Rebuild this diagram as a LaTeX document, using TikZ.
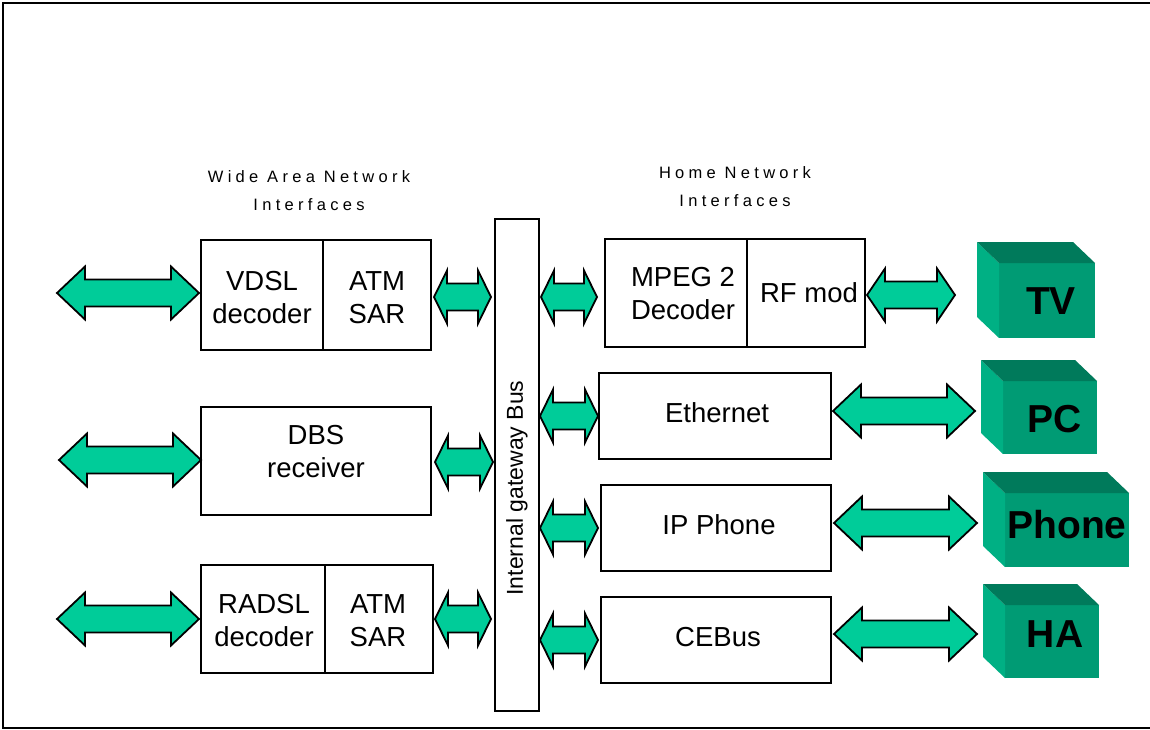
\documentclass[tikz,border=0pt]{standalone}
\usepackage{fontspec}
\setmainfont{Liberation Sans}
\newfontfamily\hdrfont[LetterSpace=26]{Liberation Sans}
\usetikzlibrary{calc}
\definecolor{arrowgreen}{HTML}{00CC99}
\definecolor{cubefront}{HTML}{009B74}
\definecolor{cubetop}{HTML}{007A5B}
\definecolor{cubeleft}{HTML}{00B084}
\newcommand\dblarr[3]{%
  \draw[blockarrow] let \p1=#1, \p2=#2 in
   (\x1,\y1) -- (\x1+#3,\y1+26.5pt) -- (\x1+#3,\y1+13.5pt) -- (\x2-#3,\y1+13.5pt)
   -- (\x2-#3,\y1+26.5pt) -- (\x2,\y1) -- (\x2-#3,\y1-26.5pt) -- (\x2-#3,\y1-13.5pt)
   -- (\x1+#3,\y1-13.5pt) -- (\x1+#3,\y1-26.5pt) -- cycle;}
\newcommand\cubefaces[1]{%
  \fill[cubeleft] (#1.north west) -- ++(-22,-21) -- ([shift={(-22,-21)}]#1.south west) -- (#1.south west) -- cycle;
  \fill[cubetop] (#1.north west) -- ++(-22,-21) -- ([shift={(-22,-21)}]#1.north east) -- (#1.north east) -- cycle;}
\begin{document}
\begin{tikzpicture}[x=1pt,y=-1pt,
  box/.style={draw, line width=2pt, inner sep=0pt, outer sep=0pt},
  boxtext/.style={align=center, inner sep=0pt, font=\fontsize{27.5}{33}\selectfont},
  hdr/.style={align=center, inner sep=0pt, font=\hdrfont\fontsize{16.5}{28}\selectfont},
  blockarrow/.style={draw=black, fill=arrowgreen, line width=1.8pt, line join=miter},
  cubeface/.style={fill=cubefront, inner sep=0pt, outer sep=0pt},
  cubetext/.style={inner sep=0pt, font=\bfseries\fontsize{39}{39}\selectfont}]
\useasboundingbox (0,0) rectangle (1150,730);
\draw[line width=2.2pt] (3,3) rectangle (1165,728);

% headers
\node[hdr] (hwan) at (309,191) {Wide Area Network\\Interfaces};
\node[hdr] (hhome) at (735,187) {Home Network\\Interfaces};

% WAN boxes
\node[box, minimum width=122, minimum height=110] (vdsl) at (262,295) {};
\node[box, minimum width=108, minimum height=110] (atm1) at (377,295) {};
\node[box, minimum width=230, minimum height=108] (dbs) at (316,461) {};
\node[box, minimum width=124, minimum height=108] (radsl) at (263,619) {};
\node[box, minimum width=108, minimum height=108] (atm2) at (379,619) {};
\node[boxtext] (tvdsl) at (262,298) {VDSL\\decoder};
\node[boxtext] (tatm1) at (377,298) {ATM\\SAR};
\node[boxtext] (tdbs) at (316,452) {DBS\\receiver};
\node[boxtext] (tradsl) at (264,621) {RADSL\\decoder};
\node[boxtext] (tatm2) at (378,621) {ATM\\SAR};

% bus
\node[box, minimum width=44, minimum height=492] (bus) at (517,465) {};
\node[rotate=90, inner sep=0pt, font=\fontsize{23}{23}\selectfont] (tbus) at (517,488) {Internal gateway Bus};

% home boxes
\node[box, minimum width=142, minimum height=108] (mpeg) at (676,293) {};
\node[box, minimum width=118, minimum height=108] (rfmod) at (806,293) {};
\node[box, minimum width=232, minimum height=86] (eth) at (715,416) {};
\node[box, minimum width=230, minimum height=86] (ipph) at (716,528) {};
\node[box, minimum width=230, minimum height=86] (cebus) at (716,640) {};
\node[boxtext] (tmpeg) at (683,294) {MPEG 2\\Decoder};
\node[boxtext] (trf) at (809,293) {RF mod};
\node[boxtext] (teth) at (717,413) {Ethernet};
\node[boxtext] (tip) at (719,525) {IP Phone};
\node[boxtext] (tce) at (718,637) {CEBus};

% cubes
\node[cubeface, minimum width=96, minimum height=75] (tv) at (1047,300.5) {};
\cubefaces{tv}
\node[cubeface, minimum width=94, minimum height=73] (pc) at (1050,417.5) {};
\cubefaces{pc}
\node[cubeface, minimum width=124, minimum height=74] (phone) at (1067,530) {};
\cubefaces{phone}
\node[cubeface, minimum width=94, minimum height=73] (ha) at (1052,641.5) {};
\cubefaces{ha}
\node[cubetext] (ttv) at (1051,301) {TV};
\node[cubetext] (tpc) at (1055,419) {PC};
\node[cubetext] (tphone) at (1067,525) {Phone};
\node[cubetext] (tha) at (1055,634) {HA};

% arrows: WAN side
\coordinate (w1) at (57,293);
\coordinate (w2) at (59,460);
\coordinate (w3) at (57,619);
\dblarr{(w1)}{([xshift=-2pt]vdsl.west)}{28pt}
\dblarr{(w2)}{(dbs.west)}{28pt}
\dblarr{(w3)}{([xshift=-2pt]radsl.west)}{28pt}
\dblarr{([shift={(3,2)}]atm1.east)}{([xshift=-4pt]bus.west)}{13pt}
\dblarr{([shift={(4,1)}]dbs.east)}{([xshift=-2pt]bus.west)}{13pt}
\dblarr{([xshift=2pt]atm2.east)}{([xshift=-4pt]bus.west)}{13pt}

% arrows: home side
\dblarr{($(bus.east|-mpeg.west)+(2,4)$)}{([xshift=-8pt]mpeg.west)}{13pt}
\dblarr{($(bus.east|-eth.west)+(1,0)$)}{([xshift=-1pt]eth.west)}{13pt}
\dblarr{($(bus.east|-ipph.west)+(1,0)$)}{([xshift=-3pt]ipph.west)}{13pt}
\dblarr{($(bus.east|-cebus.west)+(1,0)$)}{([xshift=-3pt]cebus.west)}{13pt}
\dblarr{([shift={(2,2)}]rfmod.east)}{([xshift=-44pt]tv.west)}{18pt}
\dblarr{([shift={(2,-5)}]eth.east)}{([xshift=-28pt]pc.west)}{28pt}
\dblarr{([shift={(3,-5)}]ipph.east)}{([xshift=-28pt]phone.west)}{28pt}
\dblarr{([shift={(3,-6)}]cebus.east)}{([xshift=-28pt]ha.west)}{28pt}
\end{tikzpicture}
\end{document}
